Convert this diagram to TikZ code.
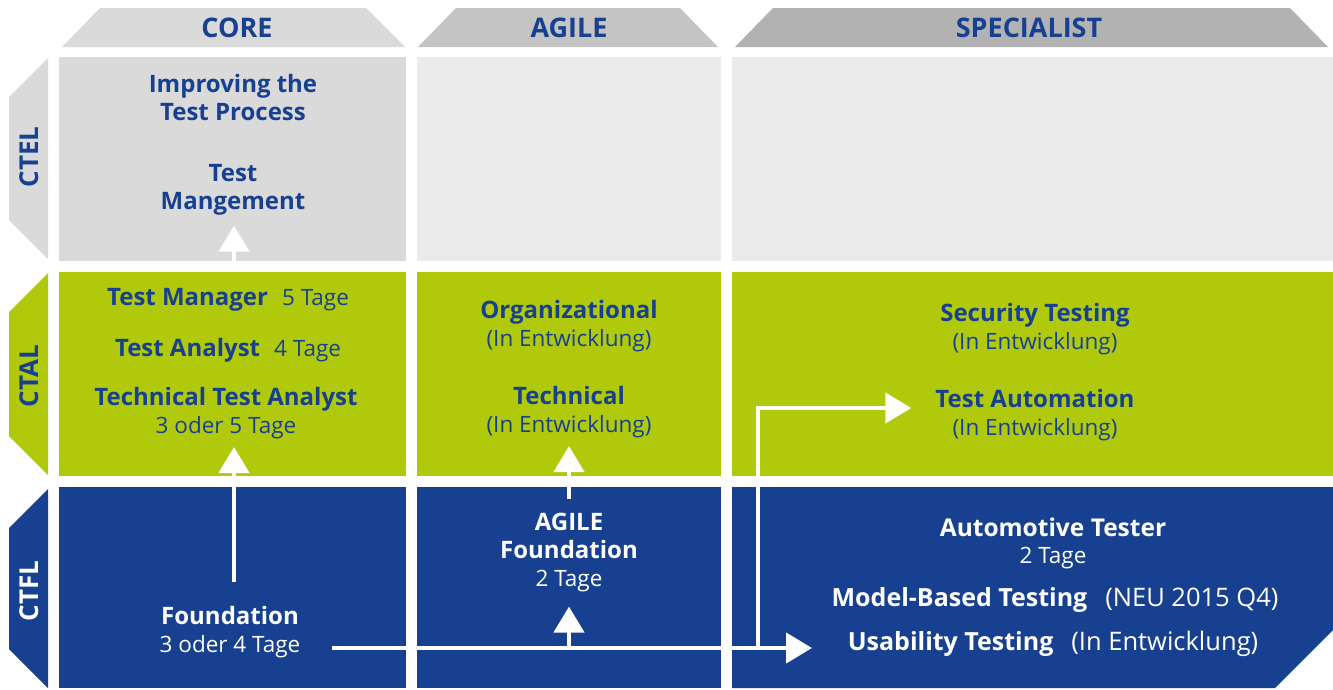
\documentclass[tikz,border=0pt]{standalone}
\usepackage{fontspec}
\setmainfont{Open Sans}
\usetikzlibrary{arrows.meta}

\definecolor{lvlblue}{RGB}{23,65,144}
\definecolor{lvlgreen}{RGB}{176,201,11}
\definecolor{coregray}{RGB}{218,218,218}
\definecolor{palegray}{RGB}{235,235,235}
\definecolor{agilegray}{RGB}{196,196,196}
\definecolor{specgray}{RGB}{178,178,178}

\newcommand{\tage}[2][22.5]{{\fontsize{#1}{24}\selectfont\mdseries #2}}

\begin{document}
\begin{tikzpicture}[x=1pt,y=-1pt,
    hd/.style={font=\fontsize{27}{30}\selectfont\bfseries,text=lvlblue},
    lvl/.style={font=\fontsize{26}{30}\selectfont\bfseries,rotate=90},
    course/.style={font=\fontsize{24}{28}\selectfont\bfseries,align=center,inner sep=0pt,text=lvlblue},
    link/.style={white,line width=4.5pt},
    tip/.style={-{Triangle[length=26pt,width=30pt]}}]
    \useasboundingbox (0,0) rectangle (1333,689);

    % column heads
    \fill[coregray] (62,47) -- (100,8) -- (366,8) -- (405,47) -- cycle;
    \node[hd] (core) at (237,28) {CORE};
    \fill[agilegray] (418,47) -- (456,8) -- (680,8) -- (718,47) -- cycle;
    \node[hd] (agile) at (569,28) {AGILE};
    \fill[specgray] (735,47) -- (773,8) -- (1290,8) -- (1328,47) -- cycle;
    \node[hd] (spec) at (1029,28) {SPECIALIST};

    % level tabs
    \fill[coregray] (48,58) -- (48,259) -- (9,220) -- (9,97) -- cycle;
    \node[lvl,text=lvlblue] (ctel) at (29,157) {CTEL};
    \fill[lvlgreen] (48,273) -- (48,475) -- (9,436) -- (9,312) -- cycle;
    \node[lvl,text=lvlblue] (ctal) at (29,376) {CTAL};
    \fill[lvlblue] (48,489) -- (48,688) -- (9,649) -- (9,528) -- cycle;
    \node[lvl,text=white] (ctfl) at (29,591) {CTFL};

    % cells
    \fill[coregray] (59,57) rectangle (406,261);
    \fill[palegray] (417,57) rectangle (721,261);
    \fill[palegray] (732,57) rectangle (1333,261);
    \fill[lvlgreen] (59,272) rectangle (406,476);
    \fill[lvlgreen] (417,272) rectangle (721,476);
    \fill[lvlgreen] (732,272) rectangle (1333,476);
    \fill[lvlblue] (59,487) rectangle (406,688);
    \fill[lvlblue] (417,487) rectangle (721,688);
    \fill[lvlblue] (732,487) -- (1333,487) -- (1333,630) -- (1275,688) -- (732,688) -- cycle;

    % courses
    \node[course] (ipt) at (233,97) {Improving the\\Test Process};
    \node[course] (tmg) at (233,190) {Test\\Mangement};
    \node[course] (tm) at (228,300) {Test Manager\hspace{14pt}\tage{5 Tage}};
    \node[course] (ta) at (228,350) {Test Analyst\hspace{14pt}\tage{4 Tage}};
    \node[course] (tta) at (226,413) {Technical Test Analyst\\\tage{3 oder 5 Tage}};
    \node[course] (org) at (569,326) {Organizational\\\tage{(In Entwicklung)}};
    \node[course] (tech) at (569,412) {Technical\\\tage{(In Entwicklung)}};
    \node[course] (sec) at (1035,329) {Security Testing\\\tage{(In Entwicklung)}};
    \node[course] (tau) at (1035,415) {Test Automation\\\tage{(In Entwicklung)}};
    \node[course,text=white] (found) at (230,632) {Foundation\\\tage{3 oder 4 Tage}};
    \node[course,text=white] (agf) at (569,553) {AGILE\\Foundation\\\tage{2 Tage}};
    \node[course,text=white,font=\fontsize{24.5}{27}\selectfont\bfseries] (auto) at (1053,543) {Automotive Tester\\\tage{2 Tage}};
    \node[course,text=white,font=\fontsize{25}{28}\selectfont\bfseries] (mbt) at (1055,600) {Model-Based Testing\hspace{18pt}\tage[25.5]{(NEU 2015 Q4)}};
    \node[course,text=white,font=\fontsize{25}{28}\selectfont\bfseries] (usab) at (1053,644) {Usability Testing\hspace{18pt}\tage[25.5]{(In Entwicklung)}};

    % paths
    \coordinate (fup) at (234,582);
    \coordinate (fr) at (332,648);
    \coordinate (agj) at (569,648);
    \coordinate (spj) at (758,648);
    \coordinate (usin) at (812,648);
    \draw[link,tip] (fup) -- ([yshift=-8pt]tta.south -| fup);
    \draw[link,tip] ([yshift=18pt]tm.north -| fup) -- ([yshift=-10pt]tmg.south -| fup);
    \draw[link,tip] (fr) -- (usin);
    \draw[link,tip] (agj) -- ([yshift=-14pt]agf.south);
    \draw[link,tip] ([yshift=14pt]agf.north) -- ([yshift=-8pt]tech.south);
    \draw[link,tip] (spj) |- ([xshift=-24pt,yshift=7pt]tau.west);
\end{tikzpicture}
\end{document}
